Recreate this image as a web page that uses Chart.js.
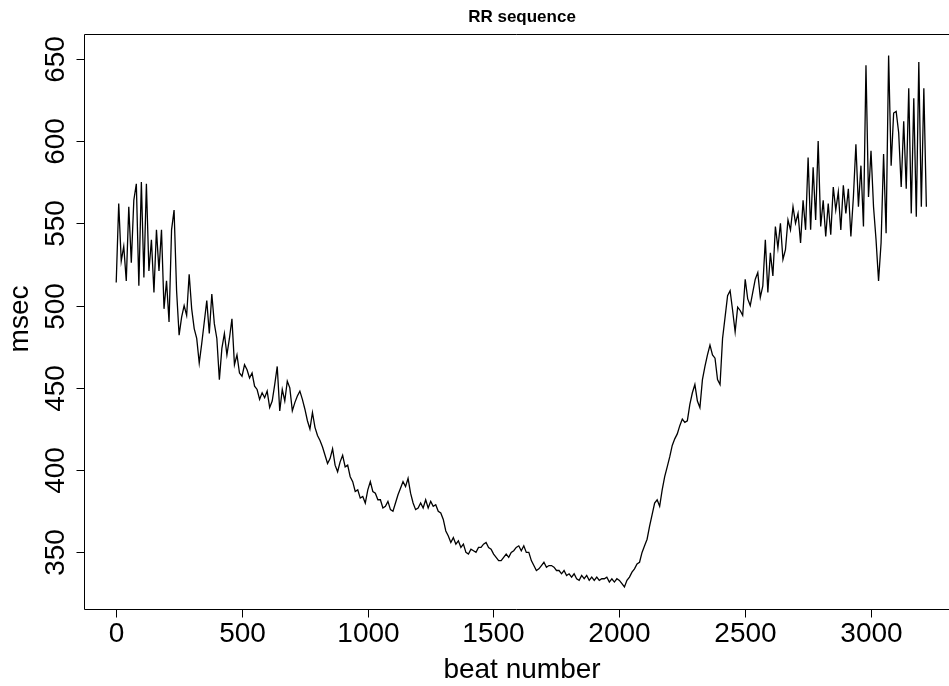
<!DOCTYPE html>
<html>
<head>
<meta charset="utf-8">
<title>RR sequence</title>
<script src="https://cdn.jsdelivr.net/npm/chart.js@4.4.1/dist/chart.umd.min.js"></script>
<style>
  html, body { margin: 0; padding: 0; background: #fff; overflow: hidden; }
  #wrap { width: 949px; height: 686px; }
</style>
</head>
<body>
<div id="wrap"><canvas id="rr" width="949" height="686"></canvas></div>
<script>
// beat numbers start at 1, one reading every 10 beats
const firstBeat = 1;
const beatStep = 10;

// RR interval (msec)
const msec = [
  514, 562, 527, 536, 515, 560, 526, 564, 574, 512,
  575, 517, 574, 521, 540, 508, 546, 521, 546, 498,
  515, 490, 546, 558, 509, 482, 493, 500, 494, 519,
  498, 486, 480, 465, 477, 490, 503, 483, 507, 489,
  480, 455, 474, 483, 470, 480, 492, 464, 470, 459,
  457, 464, 461, 456, 459, 451, 449, 443, 447, 444,
  448, 438, 442, 452, 463, 436, 449, 442, 454, 450,
  436, 441, 445, 448, 443, 437, 430, 425, 435, 426,
  421, 418, 414, 409, 404, 407, 413, 403, 399, 405,
  409, 402, 403, 396, 393, 387, 388, 383, 384, 380,
  388, 393, 387, 386, 382, 382, 377, 378, 381, 376,
  375, 380, 385, 389, 393, 390, 395, 386, 380, 376,
  377, 380, 377, 382, 377, 381, 378, 379, 375, 374,
  370, 363, 360, 356, 359, 355, 357, 353, 355, 350,
  349, 352, 351, 350, 353, 353, 355, 356, 353, 352,
  349, 347, 345, 345, 347, 349, 347, 350, 351, 353,
  354, 351, 354, 350, 350, 345, 342, 339, 340, 342,
  344, 341, 342, 342, 341, 339, 339, 337, 339, 336,
  337, 335, 337, 334, 333, 336, 334, 336, 333, 335,
  333, 335, 333, 334, 334, 335, 332, 334, 332, 334,
  333, 331, 329, 333, 335, 338, 340, 343, 344, 350,
  354, 358, 366, 373, 380, 382, 378, 388, 396, 402,
  408, 415, 419, 422, 427, 431, 429, 430, 440, 447,
  452, 442, 438, 455, 463, 470, 476, 470, 468, 455,
  452, 480, 493, 506, 509, 497, 484, 499, 497, 494,
  516, 504, 500, 508, 516, 520, 505, 512, 540, 508,
  532, 518, 548, 535, 550, 528, 534, 552, 546, 560,
  550, 556, 538, 564, 546, 590, 546, 584, 552, 600,
  548, 564, 542, 562, 543, 572, 558, 569, 546, 573,
  556, 571, 542, 566, 598, 560, 585, 548, 646, 566,
  594, 560, 540, 515, 538, 592, 544, 652, 585, 617,
  618, 605, 572, 612, 571, 632, 556, 626, 554, 648,
  560, 632, 560
];

const xTicks = [0, 500, 1000, 1500, 2000, 2500, 3000];
const yTicks = [350, 400, 450, 500, 550, 600, 650];

const chartTitle = "RR sequence";
const xTitle = "beat number";
const yTitle = "msec";

const points = msec.map((v, i) => ({ x: firstBeat + i * beatStep, y: v }));

// R style box, ticks and labels
const rFrame = {
  id: "rFrame",
  afterDraw(chart) {
    const ctx = chart.ctx;
    const area = chart.chartArea;
    const xs = chart.scales.x;
    const ys = chart.scales.y;
    const L = Math.round(area.left) + 0.5;
    const T = Math.round(area.top) + 0.5;
    const B = Math.round(area.bottom) - 0.5;
    const R = chart.width;

    ctx.save();
    ctx.strokeStyle = "#000";
    ctx.lineWidth = 1;
    ctx.beginPath();
    ctx.moveTo(R, T); ctx.lineTo(L, T); ctx.lineTo(L, B); ctx.lineTo(R, B);
    ctx.stroke();

    ctx.fillStyle = "#000";
    ctx.font = "28px 'Liberation Sans', Arial, sans-serif";

    // x axis
    ctx.textAlign = "center";
    ctx.textBaseline = "alphabetic";
    xTicks.forEach(v => {
      const px = Math.round(xs.getPixelForValue(v)) + 0.5;
      ctx.beginPath();
      ctx.moveTo(px, B); ctx.lineTo(px, B + 8);
      ctx.stroke();
      ctx.fillText(String(v), px, 642);
    });

    // y axis, labels turned like R's las=0
    yTicks.forEach(v => {
      const py = Math.round(ys.getPixelForValue(v)) + 0.5;
      ctx.beginPath();
      ctx.moveTo(L, py); ctx.lineTo(L - 8, py);
      ctx.stroke();
      ctx.save();
      ctx.translate(63.5, py);
      ctx.rotate(-Math.PI / 2);
      ctx.fillText(String(v), 0, 0);
      ctx.restore();
    });

    const midX = 522;
    const midY = 319;
    ctx.fillText(xTitle, midX, 678);
    ctx.save();
    ctx.translate(28, midY);
    ctx.rotate(-Math.PI / 2);
    ctx.fillText(yTitle, 0, 0);
    ctx.restore();

    ctx.font = "bold 17px 'Liberation Sans', Arial, sans-serif";
    ctx.fillText(chartTitle, midX, 22);
    ctx.restore();
  }
};

new Chart(document.getElementById("rr"), {
  type: "line",
  data: {
    datasets: [{
      data: points,
      borderColor: "#000",
      borderWidth: 1.3,
      pointRadius: 0,
      tension: 0,
      fill: false
    }]
  },
  options: {
    responsive: false,
    animation: false,
    layout: { padding: { left: 84, top: 34, right: 0, bottom: 76 } },
    plugins: { legend: { display: false }, tooltip: { enabled: false }, title: { display: false } },
    scales: {
      x: { type: "linear", min: -127, max: 3311, display: false },
      y: { type: "linear", min: 315, max: 665, display: false }
    }
  },
  plugins: [rFrame]
});
</script>
</body>
</html>
